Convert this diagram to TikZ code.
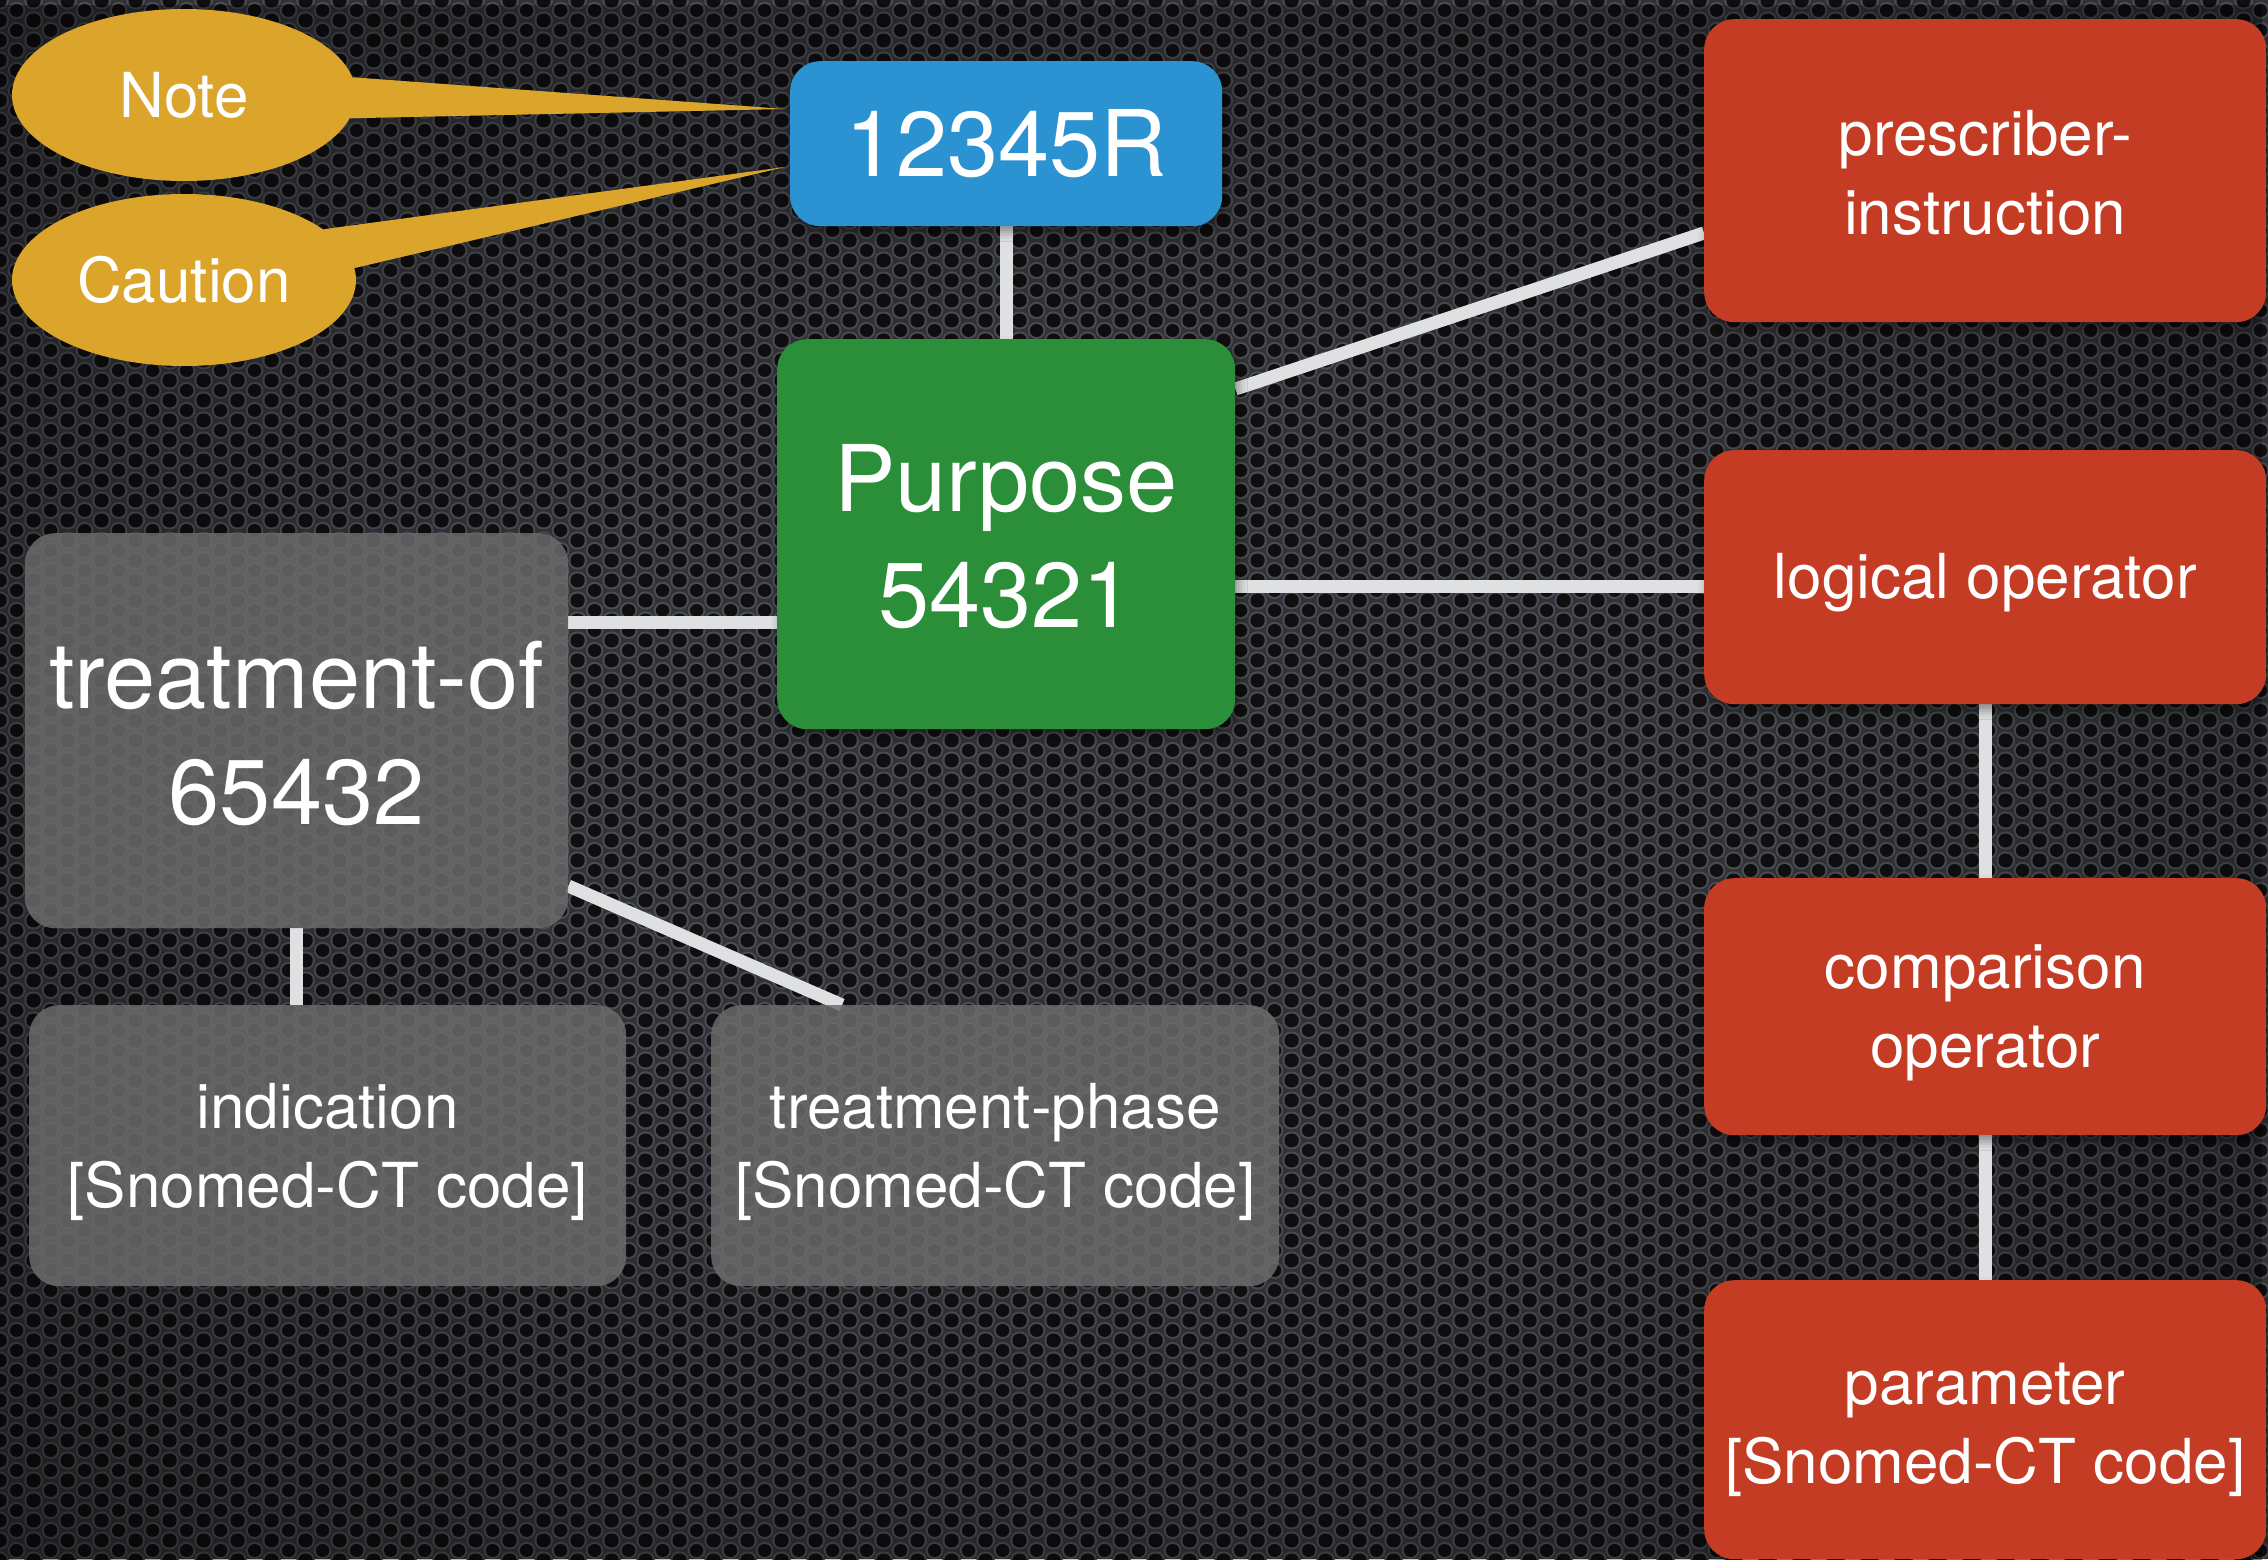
\documentclass[tikz,border=0pt]{standalone}
\usepackage{fontspec}
\setmainfont{TeX Gyre Heros}
\usetikzlibrary{shapes.geometric,shadows.blur,fadings,patterns,calc}

\definecolor{bgbase}{HTML}{303236}
\definecolor{ringc}{HTML}{4A4D53}
\definecolor{holec}{HTML}{100E0F}
\definecolor{bluec}{HTML}{2B93D1}
\definecolor{greenc}{HTML}{2A8F38}
\definecolor{redc}{HTML}{C53C24}
\definecolor{goldc}{HTML}{DBA52B}
\definecolor{grayc}{HTML}{6C6C6C}
\definecolor{linec}{HTML}{DFE0E2}

\newcommand\myhgt[1]{\rule{0pt}{#1}}

\pgfdeclarepatternformonly{hexring}{\pgfpointorigin}{\pgfqpoint{33.6pt}{20pt}}{\pgfqpoint{33.6pt}{20pt}}{%
  \pgfpathcircle{\pgfpointorigin}{9pt}%
  \pgfpathcircle{\pgfqpoint{33.6pt}{0pt}}{9pt}%
  \pgfpathcircle{\pgfqpoint{0pt}{20pt}}{9pt}%
  \pgfpathcircle{\pgfqpoint{33.6pt}{20pt}}{9pt}%
  \pgfpathcircle{\pgfqpoint{16.8pt}{10pt}}{9pt}%
  \pgfusepath{fill}}
\pgfdeclarepatternformonly{hexhole}{\pgfpointorigin}{\pgfqpoint{33.6pt}{20pt}}{\pgfqpoint{33.6pt}{20pt}}{%
  \pgfpathcircle{\pgfpointorigin}{6.8pt}%
  \pgfpathcircle{\pgfqpoint{33.6pt}{0pt}}{6.8pt}%
  \pgfpathcircle{\pgfqpoint{0pt}{20pt}}{6.8pt}%
  \pgfpathcircle{\pgfqpoint{33.6pt}{20pt}}{6.8pt}%
  \pgfpathcircle{\pgfqpoint{16.8pt}{10pt}}{6.8pt}%
  \pgfusepath{fill}}

\pgfdeclareradialshading{vigshade}{\pgfpointorigin}{color(0bp)=(black); color(14bp)=(black); color(50bp)=(white!68!black)}
\pgfdeclarefading{vig}{\pgfuseshading{vigshade}}

\pgfdeclarelayer{bgpat}
\pgfdeclarelayer{links}
\pgfsetlayers{bgpat,links,main}

\tikzset{
  box/.style={rectangle, rounded corners=30pt, inner sep=0pt, anchor=north west, align=center, text=white},
  boxshadow/.style={blur shadow={shadow xshift=3pt, shadow yshift=-6pt, shadow blur radius=9pt, shadow opacity=40}},
  graybox/.style={box, fill=grayc, fill opacity=0.84, text opacity=1},
  bigtxt/.style={font=\fontsize{92}{116}\selectfont},
  midtxt/.style={font=\fontsize{62}{79}\selectfont},
  link/.style={draw=linec, line width=13pt},
  bubble/.style={ellipse, fill=goldc, minimum width=344pt, minimum height=172pt, inner sep=0pt, text=white, font=\fontsize{62}{79}\selectfont},
}

\begin{document}
\begin{tikzpicture}[x=1pt, y=-1pt]
\useasboundingbox (0,0) rectangle (2268,1559);

% nodes
\node[bubble] (note) at (184,95) {Note};
\node[bubble] (caution) at (184,280) {Caution};
\coordinate (tipnote) at (785,109);
\coordinate (tipcaution) at (785,167);
\fill[goldc] (note.6) -- (tipnote) -- (note.-8) -- cycle;
\fill[goldc] (caution.20) -- (tipcaution) -- (caution.4) -- cycle;

\node[box, boxshadow, fill=bluec, bigtxt, minimum width=432pt, minimum height=165pt] (r) at (790,61) {12345R};
\node[box, boxshadow, fill=greenc, bigtxt, minimum width=458pt, minimum height=390pt] (p) at (777,339) {\myhgt{71pt}Purpose\\54321};
\node[graybox, bigtxt, minimum width=543pt, minimum height=395pt] (treat) at (25,533) {\myhgt{72pt}treatment-of\\65432};
\node[graybox, midtxt, minimum width=597pt, minimum height=281pt] (ind) at (29,1005) {\myhgt{58pt}indication\\{[Snomed-CT code]}};
\node[graybox, midtxt, minimum width=568pt, minimum height=281pt] (phase) at (711,1005) {\myhgt{58pt}treatment-phase\\{[Snomed-CT code]}};

\node[box, boxshadow, fill=redc, midtxt, minimum width=562pt, minimum height=303pt] (presc) at (1704,19) {\myhgt{50pt}prescriber-\\instruction};
\node[box, boxshadow, fill=redc, midtxt, minimum width=562pt, minimum height=254pt] (logic) at (1704,450) {\myhgt{57pt}logical operator};
\node[box, boxshadow, fill=redc, midtxt, minimum width=562pt, minimum height=257pt] (comp) at (1704,878) {\myhgt{57pt}comparison\\operator};
\node[box, boxshadow, fill=redc, midtxt, minimum width=562pt, minimum height=279pt] (param) at (1704,1280) {\myhgt{62pt}parameter\\{[Snomed-CT code]}};

% connectors
\begin{pgfonlayer}{links}
\draw[link] (r.south) -- (p.north);
\draw[link] (p.east |- 0,389) -- (presc.west |- 0,233);
\draw[link] (p.east |- 0,586) -- (logic.west |- 0,586);
\draw[link] (treat.east |- 0,622) -- (p.west |- 0,622);
\draw[link] (treat.south) -- (treat.south |- ind.north);
\draw[link] (treat.east |- 0,886) -- (842,0 |- phase.north);
\draw[link] (logic.south) -- (comp.north);
\draw[link] (comp.south) -- (param.north);
\end{pgfonlayer}

% background
\begin{pgfonlayer}{bgpat}
\fill[bgbase] (0,0) rectangle (2268,1559);
\fill[pattern=hexring, pattern color=ringc] (0,0) rectangle (2268,1559);
\fill[pattern=hexhole, pattern color=holec] (0,0) rectangle (2268,1559);
\fill[black, path fading=vig] (0,0) rectangle (2268,1559);
\end{pgfonlayer}
\end{tikzpicture}
\end{document}
